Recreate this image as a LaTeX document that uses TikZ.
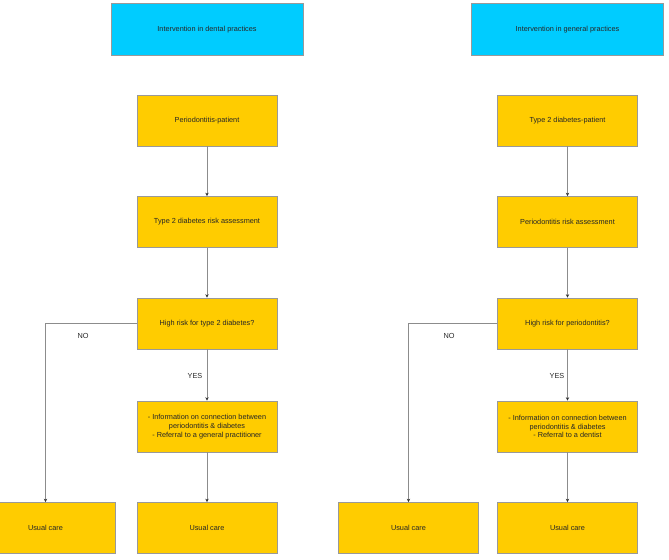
\documentclass[tikz,border=0pt]{standalone}
\usepackage{fontspec}
\setmainfont{Liberation Sans}
\usetikzlibrary{arrows.meta}

\begin{document}
\begin{tikzpicture}[x=0.025cm,y=-0.025cm,
		every node/.style={font=\fontsize{5.2}{6.2}\selectfont,text=black!85},
		head/.style={draw=black!40,fill={rgb,255:red,0;green,204;blue,255},line width=0.6pt,minimum width=4.8cm,minimum height=1.3cm},
		stepbox/.style={draw=black!40,fill={rgb,255:red,255;green,204;blue,0},line width=0.6pt,minimum width=3.5cm,minimum height=1.275cm,align=center},
		flow/.style={draw=black!45,line width=0.6pt,-{Stealth[length=2.4pt,width=2.4pt,black!80]}}]
			\clip (0,0) rectangle (669,559);
			
			% dental practices
			\node[head] (hd) at (207,29.5) {Intervention in dental practices};
			\node[stepbox] (pp) at (207,120.5) {Periodontitis-patient};
			\node[stepbox] (dr) at (207,222) {Type 2 diabetes risk assessment};
			\node[stepbox] (hd1) at (207,323.5) {High risk for type 2 diabetes?};
			\node[stepbox] (in1) at (207,426.5) {- Information on connection between\\periodontitis \& diabetes\\- Referral to a general practitioner};
			\node[stepbox] (uc1) at (45.5,528) {Usual care};
			\node[stepbox] (uc2) at (207,528) {Usual care};
			
			\draw[flow] (pp)--(dr);
			\draw[flow] (dr)--(hd1);
			\draw[flow] (hd1)--(in1);
			\draw[flow] (in1)--(uc2);
			\draw[flow] (hd1.west) -| (uc1.north);
			\node (no1) at (83,336) {NO};
			\node (yes1) at (195,376) {YES};
			
			% general practices
			\node[head] (hg) at (567.5,29.5) {Intervention in general practices};
			\node[stepbox] (dp) at (567.5,120.5) {Type 2 diabetes-patient};
			\node[stepbox] (pr) at (567.5,222) {Periodontitis risk assessment};
			\node[stepbox] (hp1) at (567.5,323.5) {High risk for periodontitis?};
			\node[stepbox] (in2) at (567.5,426.5) {- Information on connection between\\periodontitis \& diabetes\\- Referral to a dentist};
			\node[stepbox] (uc3) at (408.5,528) {Usual care};
			\node[stepbox] (uc4) at (567.5,528) {Usual care};
			
			\draw[flow] (dp)--(pr);
			\draw[flow] (pr)--(hp1);
			\draw[flow] (hp1)--(in2);
			\draw[flow] (in2)--(uc4);
			\draw[flow] (hp1.west) -| (uc3.north);
			\node (no2) at (449,336) {NO};
			\node (yes2) at (557,376) {YES};
		\end{tikzpicture}
\end{document}
